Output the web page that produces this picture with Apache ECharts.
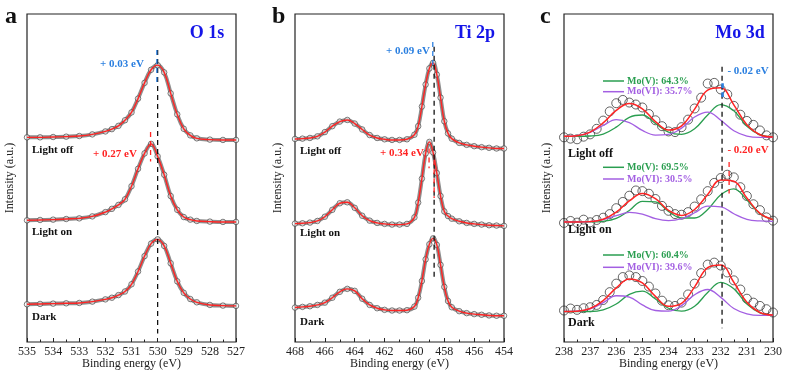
<!DOCTYPE html>
<html>
<head>
<meta charset="utf-8">
<script src="https://cdn.jsdelivr.net/npm/echarts@6/dist/echarts.min.js"></script>
<style>
  html, body { margin: 0; padding: 0; background: #fff; }
  #main { width: 799px; height: 385px; }
</style>
</head>
<body>
<div id="main"></div>
<script>
// ---- O 1s ----
const oBE   = [535, 534.5, 534, 533.5, 533, 532.5, 532, 531.75, 531.5, 531.25, 531, 530.75, 530.5, 530.25, 530, 529.75, 529.5, 529.25, 529, 528.75, 528.5, 528, 527.5, 527];
const oDark = [11.5, 11.6, 11.7, 11.8, 11.9, 12.3, 13.0, 13.5, 14.3, 15.4, 17.6, 21.5, 26.2, 30.0, 31.3, 29.3, 24.0, 18.5, 15.0, 13.1, 12.1, 11.3, 11.1, 11.0];
const oOn   = [37.1, 37.2, 37.3, 37.5, 37.7, 38.3, 39.6, 40.6, 41.8, 43.5, 47.5, 52.8, 57.5, 60.4, 56.6, 51.0, 44.5, 40.3, 38.1, 37.3, 36.9, 36.7, 36.6, 36.6];
const oOff  = [62.4, 62.4, 62.5, 62.6, 62.8, 63.3, 64.2, 64.9, 65.9, 67.6, 70.0, 74.2, 79.0, 83.0, 84.4, 82.2, 75.8, 69.4, 65.0, 63.0, 62.1, 61.7, 61.6, 61.6];
const oPeakBE = [530.0, 530.03, 530.27];   // dark, light off, light on
const oShift  = ['+ 0.03 eV', '+ 0.27 eV'];

// ---- Ti 2p ----
const tiBE   = [468, 467.5, 467, 466.5, 466, 465.5, 465, 464.5, 464, 463.5, 463, 462.5, 462, 461.5, 461, 460.5, 460, 459.75, 459.5, 459.25, 459, 458.75, 458.5, 458.25, 458, 457.75, 457.5, 457, 456.5, 456, 455.5, 455, 454.5, 454];
const tiDark = [10.5, 10.7, 10.9, 11.3, 12.0, 13.5, 15.3, 16.2, 15.6, 13.2, 11.3, 10.3, 9.8, 9.6, 9.6, 9.7, 10.8, 13.5, 18.6, 25.2, 29.8, 31.6, 29.6, 23.5, 16.8, 12.5, 10.6, 9.4, 8.8, 8.5, 8.3, 8.1, 8.0, 8.0];
const tiOn   = [36.1, 36.2, 36.4, 36.9, 38.2, 40.3, 42.3, 42.6, 40.9, 38.5, 37.0, 36.3, 36.0, 35.8, 35.8, 36.0, 38.0, 42.5, 49.8, 57.5, 61.0, 57.8, 51.5, 44.5, 39.8, 38.4, 37.6, 36.8, 36.3, 36.0, 35.8, 35.6, 35.5, 35.4];
const tiOff  = [61.9, 62.0, 62.2, 62.7, 64.0, 65.8, 67.2, 67.7, 66.6, 64.8, 63.1, 62.2, 61.8, 61.6, 61.6, 61.8, 63.2, 65.8, 71.8, 78.5, 83.4, 85.1, 81.5, 74.5, 67.3, 63.6, 62.0, 60.7, 60.1, 59.7, 59.4, 59.2, 59.0, 59.0];
const tiPeakBE = [458.68, 458.77, 459.02];
const tiShift  = ['+ 0.09 eV', '+ 0.34 eV'];

// ---- Mo 3d ----
const moBE    = [238, 237.5, 237, 236.5, 236, 235.5, 235, 234.5, 234, 233.5, 233, 232.5, 232, 231.5, 231, 230.5, 230];
const moRawBE = [238, 237.75, 237.5, 237.25, 237, 236.75, 236.5, 236.25, 236, 235.75, 235.5, 235.25, 235, 234.75, 234.5, 234.25, 234, 233.75, 233.5, 233.25, 233, 232.75, 232.5, 232.25, 232, 231.75, 231.5, 231.25, 231, 230.75, 230.5, 230.25, 230];

const moOffRaw = [62.4, 62.0, 61.8, 62.6, 63.3, 65.0, 67.5, 70.3, 72.8, 73.8, 73.0, 72.4, 71.5, 69.5, 67.6, 65.8, 64.2, 64.0, 65.5, 67.8, 71.2, 74.5, 78.8, 79.0, 77.0, 75.5, 72.0, 69.3, 67.4, 66.2, 64.5, 63.0, 62.4];
const moOffFit = [62.7, 62.9, 64.0, 66.8, 70.6, 72.7, 71.1, 67.2, 64.6, 65.9, 71.0, 76.8, 77.5, 72.3, 66.2, 63.2, 62.5];
const moOffV   = [62.7, 62.7, 62.8, 63.4, 65.5, 68.5, 69.2, 66.6, 64.0, 63.3, 65.0, 69.2, 72.4, 70.5, 65.8, 63.2, 62.5];
const moOffVI  = [62.7, 62.9, 63.9, 66.0, 67.8, 66.9, 64.5, 63.1, 63.3, 65.2, 68.6, 70.1, 67.6, 64.4, 62.8, 62.4, 62.4];

const moOnRaw = [36.3, 36.9, 36.4, 37.3, 36.5, 37.2, 37.9, 39.0, 40.8, 42.7, 44.6, 46.2, 46.0, 45.2, 43.6, 41.5, 40.0, 39.0, 38.8, 39.6, 41.3, 43.5, 46.0, 48.5, 50.0, 51.0, 50.2, 47.2, 44.5, 42.0, 40.2, 38.0, 37.0];
const moOnFit = [36.6, 36.6, 36.7, 37.4, 39.6, 43.0, 45.3, 43.7, 40.1, 38.6, 40.4, 45.0, 49.4, 49.0, 43.9, 39.2, 37.3];
const moOnV   = [36.6, 36.6, 36.6, 36.8, 37.7, 40.1, 42.9, 42.7, 39.8, 37.8, 37.8, 40.4, 44.9, 46.7, 43.3, 39.1, 37.3];
const moOnVI  = [36.6, 36.6, 36.7, 37.3, 38.5, 39.5, 39.0, 37.6, 37.0, 37.6, 39.4, 41.4, 41.2, 39.1, 37.4, 36.9, 36.8];

const moDarkRaw = [9.6, 10.2, 9.8, 10.3, 10.6, 11.3, 12.8, 15.2, 17.8, 19.8, 20.3, 19.8, 18.6, 16.9, 14.8, 12.6, 11.2, 11.0, 12.0, 14.5, 17.8, 21.0, 23.6, 24.2, 23.3, 21.2, 18.8, 16.0, 13.2, 12.0, 11.0, 10.0, 9.0];
const moDarkFit = [9.3, 9.4, 10.2, 12.6, 16.5, 19.2, 18.0, 13.9, 10.9, 11.8, 16.8, 22.7, 23.5, 18.2, 12.1, 9.0, 8.2];
const moDarkV   = [9.3, 9.3, 9.3, 9.8, 11.6, 14.5, 15.5, 13.1, 10.3, 9.4, 10.9, 15.1, 18.2, 16.2, 11.6, 8.9, 8.2];
const moDarkVI  = [9.3, 9.4, 10.1, 12.0, 14.1, 13.7, 11.3, 9.6, 9.4, 11.1, 14.4, 16.0, 13.6, 10.2, 8.6, 8.1, 8.1];

const moPeakBE = [231.95, 231.93, 231.68];
const moShift  = ['- 0.02 eV', '- 0.20 eV'];
const moVPct   = ['64.3%', '69.5%', '60.4%'];   // light off, light on, dark
const moVIPct  = ['35.7%', '30.5%', '39.6%'];

const stateNames = ['Light off', 'Light on', 'Dark'];

// ---- styling ----
const SERIF = '"Liberation Serif", "Times New Roman", serif';
const RED = '#ff2424', TITLE_BLUE = '#1515e8', BLUE = '#2a7fe0', GREEN = '#2a9e50', PURPLE = '#a35fe2';

let chart = echarts.init(document.getElementById('main'));

function pairs(xs, ys){
  return xs.map((x, i) => [x, ys[i]]);
}

// measured points: grey band with hollow circles
function rawLine(idx, xs, ys){
  return {
    type: 'line', xAxisIndex: idx, yAxisIndex: idx, data: pairs(xs, ys),
    smooth: 0.4, symbol: 'circle', symbolSize: 5.5, showSymbol: true,
    lineStyle: { color: '#8e8e8e', width: 4 },
    itemStyle: { color: 'rgba(255,255,255,0.55)', borderColor: '#444', borderWidth: 0.7 },
    silent: true, z: 2
  };
}

function rawScatter(idx, xs, ys){
  return {
    type: 'scatter', xAxisIndex: idx, yAxisIndex: idx, data: pairs(xs, ys),
    symbol: 'circle', symbolSize: 9,
    itemStyle: { color: 'rgba(255,255,255,0)', borderColor: '#2a2a2a', borderWidth: 0.9 },
    silent: true, z: 2
  };
}

function curve(idx, xs, ys, color, width, z){
  return {
    type: 'line', xAxisIndex: idx, yAxisIndex: idx, data: pairs(xs, ys),
    smooth: 0.4, symbol: 'none', lineStyle: { color: color, width: width },
    silent: true, z: z
  };
}

function dash(idx, x, y0, y1, color, width){
  return {
    type: 'line', xAxisIndex: idx, yAxisIndex: idx, data: [[x, y0], [x, y1]],
    symbol: 'none', lineStyle: { color: color, width: width, type: [5, 4] },
    silent: true, z: 6
  };
}

function txt(x, y, s, size, color, align, bold){
  return {
    type: 'text', x: x, y: y, silent: true, z: 10,
    style: {
      text: s, fill: color, align: align || 'left', verticalAlign: 'middle',
      font: (bold === false ? '' : 'bold ') + size + 'px ' + SERIF
    }
  };
}

function keyLine(x, y, color){
  return { type: 'line', silent: true, z: 10, shape: { x1: x, y1: y, x2: x + 21, y2: y }, style: { stroke: color, lineWidth: 1.5 } };
}

let lefts = [27, 295, 564];
let ranges = [[527, 535, 1], [454, 468, 2], [230, 238, 1]];

let grids = lefts.map(l => ({
  left: l, top: 14, width: 209, height: 328,
  show: true, borderColor: '#222', borderWidth: 1.2, backgroundColor: 'transparent'
}));

let xAxes = ranges.map((r, i) => ({
  gridIndex: i, type: 'value', min: r[0], max: r[1], interval: r[2], inverse: true,
  axisLine: { show: false },
  axisTick: { show: true, inside: true, length: 4, lineStyle: { color: '#222' } },
  minorTick: { show: true, splitNumber: 2, length: 2.5, lineStyle: { color: '#222' } },
  splitLine: { show: false },
  axisLabel: { color: '#222', fontSize: 12, fontFamily: SERIF, margin: 4, showMinLabel: true, showMaxLabel: true },
  name: 'Binding energy (eV)', nameLocation: 'middle', nameGap: 16, nameMoveOverlap: false,
  nameTextStyle: { color: '#222', fontSize: 12, fontFamily: SERIF, verticalAlign: 'top' }
}));

let yAxes = ranges.map((r, i) => ({
  gridIndex: i, type: 'value', min: 0, max: 100,
  axisLine: { show: false }, axisTick: { show: false }, axisLabel: { show: false }, splitLine: { show: false },
  name: 'Intensity (a.u.)', nameLocation: 'middle', nameGap: 11,
  nameTextStyle: { color: '#222', fontSize: 12, fontFamily: SERIF }
}));

let series = [
  // O 1s
  rawLine(0, oBE, oOff), curve(0, oBE, oOff, RED, 1.4, 4),
  rawLine(0, oBE, oOn), curve(0, oBE, oOn, RED, 1.4, 4),
  rawLine(0, oBE, oDark), curve(0, oBE, oDark, RED, 1.4, 4),
  dash(0, oPeakBE[0], 89, 2.6, '#111', 1.3),
  dash(0, oPeakBE[1], 89, 79, BLUE, 1.3),
  dash(0, oPeakBE[2], 64, 55, RED, 1.3),
  // Ti 2p
  rawLine(1, tiBE, tiOff), curve(1, tiBE, tiOff, RED, 1.4, 4),
  rawLine(1, tiBE, tiOn), curve(1, tiBE, tiOn, RED, 1.4, 4),
  rawLine(1, tiBE, tiDark), curve(1, tiBE, tiDark, RED, 1.4, 4),
  dash(1, tiPeakBE[0], 90, 18.8, '#111', 1.3),
  dash(1, tiPeakBE[1], 91.5, 83.8, BLUE, 1.3),
  dash(1, tiPeakBE[2], 59, 53, RED, 1.3),
  dash(1, tiPeakBE[0], 55.4, 43.9, RED, 1.3),
  // Mo 3d
  rawScatter(2, moRawBE, moOffRaw), curve(2, moBE, moOffV, GREEN, 1.3, 3), curve(2, moBE, moOffVI, PURPLE, 1.3, 3), curve(2, moBE, moOffFit, RED, 1.5, 4),
  rawScatter(2, moRawBE, moOnRaw), curve(2, moBE, moOnV, GREEN, 1.3, 3), curve(2, moBE, moOnVI, PURPLE, 1.3, 3), curve(2, moBE, moOnFit, RED, 1.5, 4),
  rawScatter(2, moRawBE, moDarkRaw), curve(2, moBE, moDarkV, GREEN, 1.3, 3), curve(2, moBE, moDarkVI, PURPLE, 1.3, 3), curve(2, moBE, moDarkFit, RED, 1.5, 4),
  dash(2, moPeakBE[0], 83.9, 4.2, '#111', 1.3),
  dash(2, moPeakBE[1], 78.9, 74.7, BLUE, 2.5),
  dash(2, moPeakBE[2], 54.9, 45.3, RED, 1.3)
];

let labelY = [[150, 231.7, 316.7], [151, 233.3, 321.7], [154.3, 230, 322.7]];
let labelX = [32, 300, 568];

let graphics = [
  txt(5, 17, 'a', 24, '#111'), txt(272, 17, 'b', 24, '#111'), txt(540, 17, 'c', 24, '#111'),
  txt(207, 33, 'O 1s', 18, TITLE_BLUE, 'center'),
  txt(475, 33, 'Ti 2p', 18, TITLE_BLUE, 'center'),
  txt(740, 33, 'Mo 3d', 18, TITLE_BLUE, 'center'),
  txt(122, 64, oShift[0], 11, BLUE, 'center'),
  txt(115, 154, oShift[1], 11, RED, 'center'),
  txt(408, 51, tiShift[0], 11, BLUE, 'center'),
  txt(402, 153.3, tiShift[1], 11, RED, 'center'),
  txt(748, 70.7, moShift[0], 11, BLUE, 'center'),
  txt(748, 150, moShift[1], 11, RED, 'center')
];

labelX.forEach((x, p) => {
  labelY[p].forEach((y, k) => graphics.push(txt(x, y, stateNames[k], p == 2 ? 12 : 11, '#111')));
});

let keyY = [[81, 91.7], [167.3, 179], [255, 267.3]];
keyY.forEach((ys, k) => {
  graphics.push(keyLine(603, ys[0], GREEN), txt(627, ys[0], 'Mo(V): ' + moVPct[k], 10, GREEN));
  graphics.push(keyLine(603, ys[1], PURPLE), txt(627, ys[1], 'Mo(VI): ' + moVIPct[k], 10, PURPLE));
});

chart.setOption({
  animation: false,
  backgroundColor: '#fff',
  grid: grids,
  xAxis: xAxes,
  yAxis: yAxes,
  series: series,
  graphic: graphics
});
</script>
</body>
</html>
